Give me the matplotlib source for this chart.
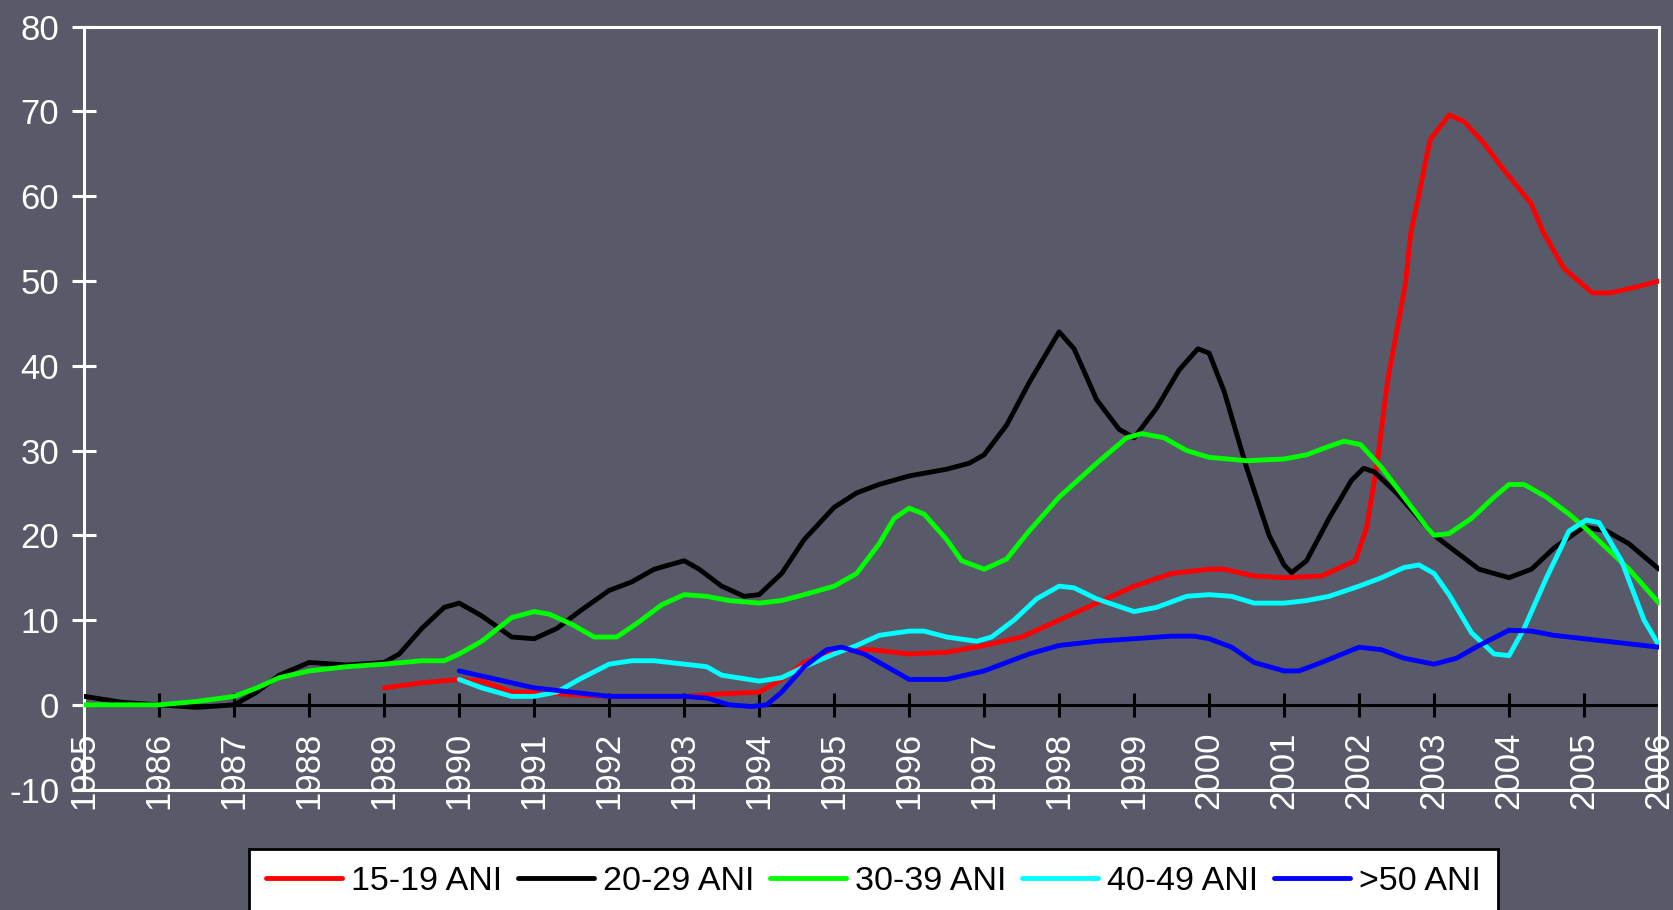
import matplotlib
matplotlib.use("Agg")
import matplotlib.pyplot as plt
import numpy as np

# ---------------- data ----------------
years_20_29 = [1985.0, 1985.5, 1986.0, 1986.5, 1987.0, 1987.3, 1987.6, 1988.0, 1988.5, 1989.0,
               1989.2, 1989.5, 1989.8, 1990.0, 1990.3, 1990.7, 1991.0, 1991.3, 1991.6, 1992.0,
               1992.3, 1992.6, 1993.0, 1993.2, 1993.5, 1993.8, 1994.0, 1994.3, 1994.6, 1995.0,
               1995.3, 1995.6, 1996.0, 1996.5, 1996.8, 1997.0, 1997.3, 1997.6, 1997.9, 1998.0,
               1998.2, 1998.5, 1998.8, 1999.0, 1999.3, 1999.6, 1999.85, 2000.0, 2000.2, 2000.5,
               2000.8, 2001.0, 2001.1, 2001.3, 2001.6, 2001.9, 2002.06, 2002.2, 2002.5, 2002.8,
               2003.0, 2003.3, 2003.6, 2004.0, 2004.3, 2004.6, 2005.0, 2005.3, 2005.6, 2006.0]
vals_20_29 = [1.0, 0.3, 0.0, -0.3, 0.0, 1.5, 3.5, 5.0, 4.7, 5.0,
              6.0, 9.0, 11.5, 12.0, 10.5, 8.0, 7.8, 9.0, 11.0, 13.5,
              14.5, 16.0, 17.0, 16.0, 14.0, 12.8, 13.0, 15.5, 19.5, 23.3,
              25.0, 26.0, 27.0, 27.8, 28.5, 29.5, 33.0, 38.0, 42.5, 44.0,
              42.0, 36.0, 32.5, 31.5, 35.0, 39.5, 42.0, 41.5, 37.0, 28.0,
              20.0, 16.5, 15.6, 17.0, 22.0, 26.5, 27.9, 27.5, 25.0, 22.0,
              20.0, 18.0, 16.0, 15.0, 16.0, 18.5, 21.0, 20.5, 19.0, 16.0]

years_30_39 = [1985.0, 1986.0, 1986.5, 1987.0, 1987.3, 1987.6, 1988.0, 1988.5, 1989.0, 1989.5,
               1989.8, 1990.0, 1990.3, 1990.7, 1991.0, 1991.2, 1991.5, 1991.8, 1992.1, 1992.4,
               1992.7, 1993.0, 1993.3, 1993.6, 1994.0, 1994.3, 1994.6, 1995.0, 1995.3, 1995.6,
               1995.8, 1996.0, 1996.2, 1996.5, 1996.7, 1997.0, 1997.3, 1997.6, 1998.0, 1998.5,
               1998.9, 1999.1, 1999.4, 1999.7, 2000.0, 2000.5, 2001.0, 2001.3, 2001.6, 2001.8,
               2002.02, 2002.3, 2002.6, 2002.9, 2003.0, 2003.2, 2003.5, 2003.8, 2004.0, 2004.2,
               2004.5, 2004.8, 2005.0, 2005.3, 2005.6, 2006.0]
vals_30_39 = [0.0, 0.0, 0.4, 1.0, 2.0, 3.2, 4.0, 4.5, 4.8, 5.2,
              5.2, 6.0, 7.5, 10.3, 11.0, 10.7, 9.5, 8.0, 8.0, 9.8,
              11.8, 13.0, 12.8, 12.3, 12.0, 12.3, 13.0, 14.0, 15.5, 19.0,
              22.0, 23.2, 22.5, 19.5, 17.0, 16.0, 17.2, 20.5, 24.5, 28.5,
              31.5, 32.0, 31.5, 30.0, 29.2, 28.8, 29.0, 29.5, 30.5, 31.1,
              30.7, 28.0, 24.5, 21.0, 20.0, 20.2, 22.0, 24.5, 26.0, 26.0,
              24.5, 22.5, 21.0, 18.5, 16.0, 12.0]

years_15_19 = [1989.0, 1989.5, 1990.0, 1990.3, 1990.7, 1991.0, 1991.5, 1992.0, 1992.5, 1993.0,
               1993.5, 1994.0, 1994.3, 1994.6, 1995.0, 1995.5, 1996.0, 1996.5, 1997.0, 1997.5,
               1998.0, 1998.5, 1999.0, 1999.5, 2000.0, 2000.2, 2000.6, 2001.0, 2001.5, 2001.95,
               2002.1, 2002.24, 2002.38, 2002.5, 2002.62, 2002.69, 2002.82, 2002.89, 2002.95, 2003.2,
               2003.4, 2003.66, 2003.93, 2004.29, 2004.46, 2004.73, 2005.11, 2005.35, 2005.7, 2006.0]
vals_15_19 = [2.0, 2.6, 3.0, 2.8, 1.5, 1.5, 1.2, 1.0, 1.0, 1.0,
              1.3, 1.5, 3.0, 5.0, 6.5, 6.5, 6.0, 6.2, 7.0, 8.0,
              10.0, 12.0, 14.0, 15.5, 16.0, 16.0, 15.2, 15.0, 15.2, 17.0,
              20.9, 28.4, 38.2, 44.0, 49.8, 55.7, 61.1, 64.3, 66.7, 69.6,
              68.8, 66.3, 63.1, 59.2, 55.7, 51.5, 48.6, 48.6, 49.3, 50.0]

years_40_49 = [1990.0, 1990.3, 1990.7, 1991.0, 1991.3, 1991.6, 1992.0, 1992.3, 1992.6, 1993.0,
               1993.3, 1993.5, 1994.0, 1994.3, 1994.6, 1995.0, 1995.3, 1995.6, 1996.0, 1996.2,
               1996.5, 1996.9, 1997.1, 1997.4, 1997.7, 1998.0, 1998.2, 1998.5, 1999.0, 1999.3,
               1999.7, 2000.0, 2000.3, 2000.6, 2001.0, 2001.3, 2001.6, 2002.0, 2002.3, 2002.6,
               2002.8, 2003.0, 2003.2, 2003.5, 2003.8, 2004.0, 2004.2, 2004.5, 2004.8, 2005.03,
               2005.2, 2005.5, 2005.8, 2006.0]
vals_40_49 = [3.0, 2.0, 1.0, 1.0, 1.5, 3.0, 4.8, 5.2, 5.2, 4.8,
              4.5, 3.5, 2.8, 3.2, 4.5, 6.0, 7.0, 8.2, 8.7, 8.7,
              8.0, 7.5, 8.0, 10.0, 12.5, 14.0, 13.8, 12.5, 11.0, 11.5,
              12.8, 13.0, 12.8, 12.0, 12.0, 12.3, 12.8, 14.0, 15.0, 16.2,
              16.5, 15.5, 13.0, 8.5, 6.0, 5.8, 9.0, 15.0, 20.5, 21.8,
              21.5, 17.0, 10.0, 7.0]

years_50 = [1990.0, 1990.5, 1991.0, 1991.5, 1992.0, 1992.5, 1993.0, 1993.3, 1993.6, 1993.9,
            1994.1, 1994.3, 1994.6, 1994.9, 1995.1, 1995.4, 1995.7, 1996.0, 1996.5, 1997.0,
            1997.3, 1997.6, 1998.0, 1998.5, 1999.0, 1999.5, 1999.8, 2000.0, 2000.3, 2000.6,
            2001.0, 2001.2, 2001.5, 2002.0, 2002.3, 2002.6, 2003.0, 2003.3, 2003.6, 2004.0,
            2004.3, 2004.6, 2005.0, 2005.5, 2006.0]
vals_50 = [4.0, 3.0, 2.0, 1.5, 1.0, 1.0, 1.0, 0.8, 0.0, -0.2,
           0.0, 1.5, 4.5, 6.5, 6.8, 6.0, 4.5, 3.0, 3.0, 4.0,
           5.0, 6.0, 7.0, 7.5, 7.8, 8.1, 8.1, 7.8, 6.8, 5.0,
           4.0, 4.0, 5.0, 6.8, 6.5, 5.5, 4.8, 5.5, 7.0, 8.8,
           8.7, 8.2, 7.8, 7.3, 6.8]

labels = ["15-19 ANI", "20-29 ANI", "30-39 ANI", "40-49 ANI", ">50 ANI"]
colors = ["#ff0000", "#000000", "#00ff00", "#00ffff", "#0000ff"]
x_ticks = list(range(1985, 2007))
y_ticks = list(range(-10, 81, 10))

# ---------------- figure ----------------
plt.rcParams['font.family'] = ['Liberation Sans', 'DejaVu Sans']
plt.rcParams['axes.unicode_minus'] = False
BG = "#585a6a"
W, H = 1673, 910
fig = plt.figure(figsize=(W / 100, H / 100), dpi=100, facecolor=BG)
ax = fig.add_axes([84.3 / W, 1 - 789.6 / H, (1659 - 84.3) / W, (789.6 - 26.7) / H])
ax.set_facecolor(BG)

series = [(years_15_19, vals_15_19), (years_20_29, vals_20_29), (years_30_39, vals_30_39),
          (years_40_49, vals_40_49), (years_50, vals_50)]
for (xs, ys), lab, col in zip(series, labels, colors):
    ax.plot(xs, ys, color=col, lw=3.5, label=lab, zorder=3,
            solid_joinstyle='round', solid_capstyle='round')

ax.set_xlim(1985, 2006)
ax.set_ylim(-10, 80)
ax.set_xticks(x_ticks)
ax.set_xticklabels([str(y) for y in x_ticks])
ax.set_yticks(y_ticks)

FS = 25
for s in ['left', 'top', 'right']:
    ax.spines[s].set_color('white')
    ax.spines[s].set_linewidth(2.2)
ax.spines['bottom'].set_position(('data', 0))
ax.spines['bottom'].set_color('black')
ax.spines['bottom'].set_linewidth(2.2)
ax.spines['bottom'].set_zorder(2)
ax.axhline(-10, color='white', lw=2.2, clip_on=False, zorder=2)

ax.tick_params(axis='y', colors='white', direction='inout', length=17, width=2.2,
               labelsize=FS, labelcolor='white', pad=9.5)
ax.tick_params(axis='x', color='black', direction='inout', length=17, width=2.2,
               labelsize=FS, labelcolor='white', pad=11, labelrotation=90)
for lbl in ax.get_xticklabels():
    lbl.set_va('top')
    lbl.set_ha('center')

leg = fig.legend(loc='upper left', bbox_to_anchor=(249 / W, 1 - 849 / H), ncol=5,
                 fontsize=24.5, frameon=True, fancybox=False, framealpha=1,
                 facecolor='white', edgecolor='black', borderpad=0.5,
                 handlelength=2.24, handletextpad=0.26, columnspacing=0.46,
                 borderaxespad=0)
leg.get_frame().set_linewidth(2.0)
for t in leg.get_texts():
    t.set_color('black')
for h in leg.get_lines():
    h.set_linewidth(3.5)

fig.savefig("out.png", dpi=100, facecolor=BG)
